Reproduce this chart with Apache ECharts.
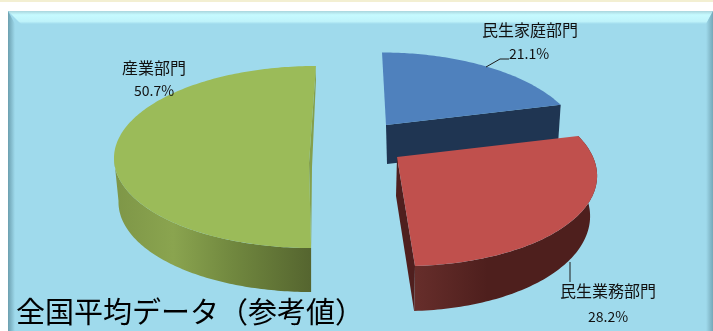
<!DOCTYPE html>
<html>
<head>
<meta charset="utf-8">
<style>html,body{margin:0;padding:0;background:#fff}#c{width:713px;height:331px}</style>
<script src="https://cdn.jsdelivr.net/npm/echarts@6/dist/echarts.min.js"></script>
</head>
<body>
<div id="c"></div>
<script>
// Energy-use share by sector, national average
const sectors = ['民生家庭部門', '民生業務部門', '産業部門'];
const shares = [21.1, 28.2, 50.7];
const titleText = '全国平均データ（参考値）';

// Projection of each exploded slice: upper rim, lower rim, cut face and side shading.
// persp makes the far part of a rim narrower than the near part;
// startTurn nudges a slice's first edge (degrees) to sit along the projected diameter.
const sliceViews = [
  {
    top: {cx: 386, cy: 125, rx: 190, ry: 87, skew: 0.055, persp: 0.2},
    bottom: {cx: 387, cy: 164, rx: 186, ry: 85, skew: 0.055, persp: 0.2},
    face: '#4F81BD', wall: '#1F3552', startTurn: 0,
    label: {x: 530, y: 30, gap: 24, shareDx: -1},
    leader: [[486, 67], [500, 59], [509, 59]]
  },
  {
    top: {cx: 397, cy: 157, rx: 196, ry: 90.5, skew: 0.07, persp: 0.17},
    bottom: {cx: 396, cy: 196, rx: 190, ry: 95.5, skew: 0.07, persp: 0.17},
    face: '#C0504D', wall: '#4F1F1E', startTurn: 0,
    side: [[0, '#672E2B'], [0.4, '#4E1F1D'], [1, '#4E1F1D']],
    label: {x: 608, y: 291, gap: 26, shareDx: 0},
    leader: [[570, 262], [570, 282]]
  },
  {
    top: {cx: 313.5, cy: 157, rx: 199.5, ry: 91, skew: -0.027, persp: 0},
    bottom: {cx: 313.5, cy: 201, rx: 195, ry: 91, skew: -0.027, persp: 0},
    apex: [309, 163],
    face: '#9BBB59', sliver: '#84A04C', startTurn: 2.5,
    side: [[0, '#7E9647'], [0.3, '#8AA44F'], [0.6, '#71883F'], [1, '#55652F']],
    sideEnd: 270,
    label: {x: 154, y: 68, gap: 23, shareDx: 0},
    leader: null
  }
];

const DEG = Math.PI / 180;

// Point on a rim at clockwise angle a, measured from twelve o'clock
function rimPoint(v, a) {
  const w = 1 + v.persp * Math.cos(a);
  const y = -v.ry * Math.cos(a) / w;
  return [v.cx + v.rx * Math.sin(a) / w + v.skew * y, v.cy + y];
}
function arc(v, a0, a1) {
  const pts = [];
  const n = Math.max(2, Math.ceil(Math.abs(a1 - a0) / DEG));
  for (let i = 0; i <= n; i++) pts.push(rimPoint(v, a0 + (a1 - a0) * i / n));
  return pts;
}

// Slice angles follow the cumulative shares
const total = shares.reduce((s, x) => s + x, 0);
const angles = [];
shares.reduce((acc, x) => {
  angles.push([acc / total * 2 * Math.PI, (acc + x) / total * 2 * Math.PI]);
  return acc + x;
}, 0);

function poly(points, fill, z2) {
  return {type: 'polygon', shape: {points}, style: {fill}, silent: true, z2};
}

function renderSlice(params) {
  const i = params.dataIndex;
  const view = sliceViews[i];
  const a0 = angles[i][0] + view.startTurn * DEG;
  const a1 = angles[i][1];
  const kids = [];
  const apex = view.apex || [view.top.cx, view.top.cy];
  const base = i * 10;

  // Flat cut face of the slice
  if (view.wall) {
    kids.push(poly([apex, rimPoint(view.top, a1), rimPoint(view.bottom, a1), [view.bottom.cx, view.bottom.cy]], view.wall, base + 1));
  }
  // Thin strip of the cut face seen along the large slice's straight edge
  if (view.sliver) {
    const corner = rimPoint(view.top, a1);
    const foot = rimPoint(view.top, a0);
    kids.push(poly([corner, [corner[0], corner[1] + 14], [apex[0] + 3, apex[1] + 4], foot, apex], view.sliver, base + 1));
  }
  // Outer curved side
  if (view.side) {
    const sideEnd = view.sideEnd ? view.sideEnd * DEG : a1;
    const outline = arc(view.top, a0, sideEnd).concat(arc(view.bottom, a0, sideEnd).reverse());
    const stops = view.side.map(s => ({offset: s[0], color: s[1]}));
    kids.push(poly(outline, new echarts.graphic.LinearGradient(0, 0, 1, 0, stops), base + 2));
  }
  // Top face
  kids.push(poly([apex].concat(arc(view.top, a0, a1)), view.face, base + 3));

  // Leader line
  if (view.leader) {
    kids.push({type: 'polyline', shape: {points: view.leader},
      style: {stroke: '#1a1a1a', lineWidth: 1, fill: null}, silent: true, z2: 40});
  }
  // Label: sector name and its share
  kids.push({type: 'text', style: {
    x: view.label.x, y: view.label.y, text: sectors[i], align: 'center', verticalAlign: 'middle',
    font: '16px "Noto Sans CJK JP"', fill: '#111'}, silent: true, z2: 41});
  kids.push({type: 'text', style: {
    x: view.label.x + view.label.shareDx, y: view.label.y + view.label.gap, text: shares[i].toFixed(1) + '%',
    align: 'center', verticalAlign: 'middle',
    font: '14px "Noto Sans CJK JP"', fill: '#111'}, silent: true, z2: 41});
  return {type: 'group', children: kids};
}

const PANEL = {l: 8, t: 11, r: 713, b: 331, bevel: 13, side: 7};
const BG = '#9FDAEC';
const ramp = (x2, y2, stops) => new echarts.graphic.LinearGradient(0, 0, x2, y2, stops.map(s => ({offset: s[0], color: s[1]})));

const chart = echarts.init(document.getElementById('c'), null, {renderer: 'canvas'});
chart.setOption({
  animation: false,
  backgroundColor: '#ffffff',
  graphic: [
    {type: 'rect', shape: {x: 0, y: 0, width: 713, height: 2}, style: {fill: '#F3EFD2'}, z: 0},
    {type: 'rect', shape: {x: PANEL.l, y: PANEL.t, width: PANEL.r - PANEL.l, height: PANEL.b - PANEL.t}, style: {fill: BG}, z: 0},
    {type: 'polygon', shape: {points: [[PANEL.l, PANEL.t], [PANEL.r, PANEL.t], [PANEL.r - PANEL.side, PANEL.t + PANEL.bevel], [PANEL.l + PANEL.bevel, PANEL.t + PANEL.bevel]]},
      style: {fill: ramp(0, 1, [[0, '#A9D5DD'], [0.3, '#C6FAFF'], [0.8, '#BFF3FA'], [1, BG]])}, z: 0},
    {type: 'polygon', shape: {points: [[PANEL.l, PANEL.t], [PANEL.l + PANEL.side, PANEL.t + PANEL.bevel], [PANEL.l + PANEL.side, PANEL.b], [PANEL.l, PANEL.b]]},
      style: {fill: ramp(1, 0, [[0, '#6B9FAF'], [1, BG]])}, z: 0},
    {type: 'polygon', shape: {points: [[PANEL.r, PANEL.t], [PANEL.r, PANEL.b], [PANEL.r - PANEL.side, PANEL.b], [PANEL.r - PANEL.side, PANEL.t + PANEL.bevel]]},
      style: {fill: ramp(1, 0, [[0, BG], [1, '#74A8B8']])}, z: 0},
    {type: 'text', style: {x: 16, y: 312, text: titleText, font: '29px "Noto Sans CJK JP"', fill: '#000', verticalAlign: 'middle'}, z: 5}
  ],
  series: [{
    type: 'custom',
    coordinateSystem: 'none',
    silent: true,
    data: shares,
    renderItem: renderSlice
  }]
});
</script>
</body>
</html>
